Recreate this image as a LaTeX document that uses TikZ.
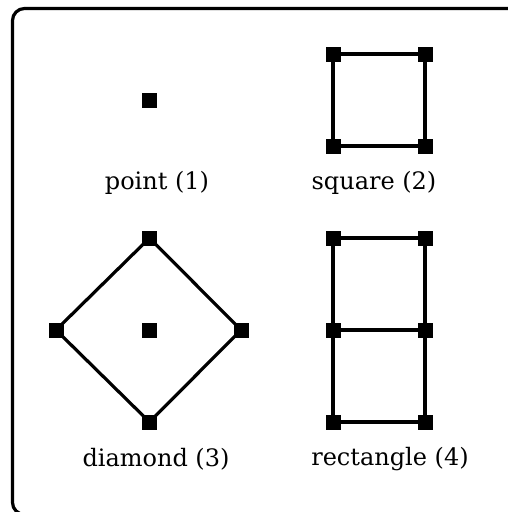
\documentclass[tikz,border=0pt]{standalone}
\usepackage{fontspec}
\setmainfont{DejaVu Serif}
\begin{document}
\begin{tikzpicture}[x=1pt,y=-1pt,
  vtx/.style={fill=black,draw=none,minimum size=15pt,inner sep=0pt,outer sep=0pt,rectangle},
  edge/.style={line width=3.2pt},
  lbl/.style={font=\fontsize{24}{28}\selectfont,inner sep=0pt}]
\useasboundingbox (0,0) rectangle (508,512);
\begin{scope}
\clip (0,0) rectangle (508,512);
\draw[line width=3.2pt,rounded corners=12pt] (12.5,8.5) rectangle (580,514.5);
\end{scope}
% point
\node[vtx] (p1) at (149.5,100) {};
\node[lbl] (l1) at (157,183) {point (1)};
% square
\node[vtx] (s1) at (333,54) {};
\node[vtx] (s2) at (425,54) {};
\node[vtx] (s3) at (333,146) {};
\node[vtx] (s4) at (425,146) {};
\draw[edge] (s1.center) -- (s2.center) -- (s4.center) -- (s3.center) -- cycle;
\node[lbl] (l2) at (374,183) {square (2)};
% diamond
\node[vtx] (d0) at (149.5,330) {};
\node[vtx] (dt) at (149.5,238) {};
\node[vtx] (dl) at (56,330) {};
\node[vtx] (dr) at (241,330) {};
\node[vtx] (db) at (149.5,422) {};
\draw[edge] (dt.center) -- (dr.center) -- (db.center) -- (dl.center) -- cycle;
\node[lbl] (l3) at (156,459) {diamond (3)};
% rectangle
\node[vtx] (r1) at (333,238) {};
\node[vtx] (r2) at (425,238) {};
\node[vtx] (r3) at (333,330) {};
\node[vtx] (r4) at (425,330) {};
\node[vtx] (r5) at (333,422) {};
\node[vtx] (r6) at (425,422) {};
\draw[edge] (r1.center) -- (r2.center) -- (r6.center) -- (r5.center) -- cycle;
\draw[edge] (r3.center) -- (r4.center);
\node[lbl] (l4) at (390,459) {rectangle (4)};
% redraw vertices on top
\foreach \n in {s1,s2,s3,s4,dt,dl,dr,db,r1,r2,r3,r4,r5,r6}
  \fill (\n.south west) rectangle (\n.north east);
\end{tikzpicture}
\end{document}
